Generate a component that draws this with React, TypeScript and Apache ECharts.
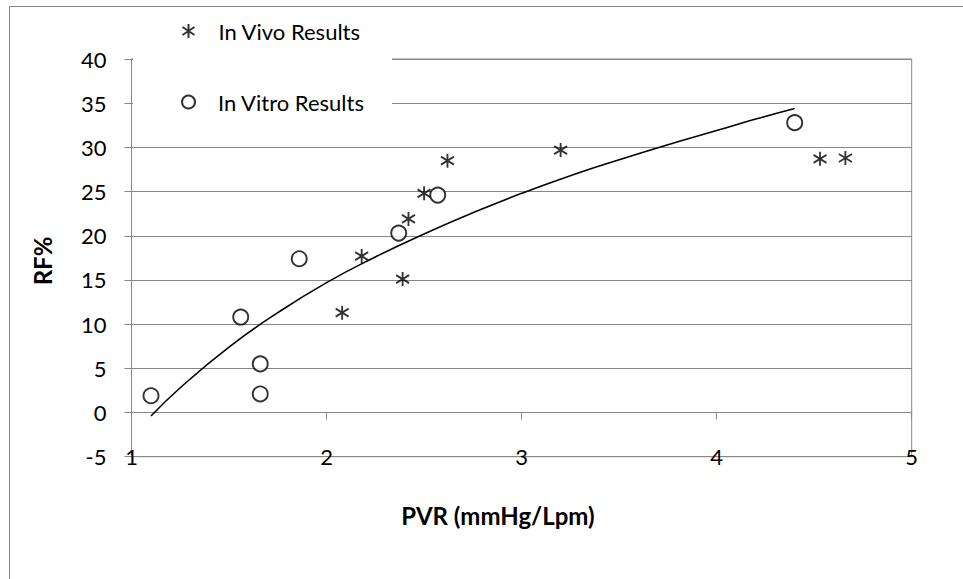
import React, { useEffect, useRef } from "react";
import * as echarts from "echarts";

const seriesNames = ["In Vivo Results", "In Vitro Results", "Trend"];
const inVivo: [number, number][] = [
  [2.08, 11.3], [2.18, 17.7], [2.39, 15.1], [2.42, 21.9], [2.5, 24.8],
  [2.62, 28.5], [3.2, 29.7], [4.53, 28.7], [4.66, 28.8],
];
const inVitro: [number, number][] = [
  [1.1, 1.9], [1.56, 10.8], [1.66, 5.5], [1.66, 2.1], [1.86, 17.4],
  [2.37, 20.3], [2.57, 24.6], [4.4, 32.8],
];
const trendLine: [number, number][] = [
  [1.1, -0.4], [1.25, 2.8], [1.5, 7.4], [1.75, 11.3], [2, 14.7], [2.25, 17.6],
  [2.5, 20.2], [2.75, 22.6], [3, 24.8], [3.25, 26.8], [3.5, 28.6], [3.75, 30.3],
  [4, 31.9], [4.2, 33.2], [4.4, 34.4],
];
const xRange = { min: 1, max: 5, interval: 1 };
const yRange = { min: -5, max: 40, interval: 5 };
const xTitle = "PVR (mmHg/Lpm)";
const yTitle = "RF%";

const FONT = "Lato";
const GRAY = "#878787";
const STAR = "path://M6,0L6,14M0,3L12,11M0,11L12,3";

export default function App() {
  const ref = useRef<HTMLDivElement>(null);
  useEffect(() => {
    if (!ref.current) return;
    const chart = echarts.init(ref.current, null, { renderer: "svg" });
    const labelStyle = { fontFamily: FONT, fontSize: 22, color: "#000" };
    chart.setOption({
      animation: false,
      backgroundColor: "#fff",
      grid: {
        left: 131.5, top: 59, right: 51.3, bottom: 122.3,
        show: true, borderColor: GRAY, borderWidth: 1, backgroundColor: "transparent",
      },
      xAxis: [
        {
          type: "value", ...xRange,
          axisLine: { show: true, onZero: true, lineStyle: { color: GRAY, width: 1 } },
          axisTick: { show: true, inside: false, length: 7, lineStyle: { color: GRAY } },
          axisLabel: { show: false },
          splitLine: { show: false },
        },
        {
          type: "value", ...xRange, position: "bottom",
          axisLine: { show: false, onZero: false },
          axisTick: { show: false },
          axisLabel: { ...labelStyle, margin: 0, verticalAlign: "middle" },
          splitLine: { show: false },
        },
      ],
      yAxis: {
        type: "value", ...yRange,
        axisLine: { show: true, onZero: false, lineStyle: { color: GRAY, width: 1 } },
        axisTick: { show: true, length: 7, lineStyle: { color: GRAY } },
        axisLabel: { ...labelStyle, margin: 25 },
        splitLine: { show: true, lineStyle: { color: GRAY, width: 1 } },
      },
      legend: [
        {
          data: [seriesNames[0]], left: 181.5, top: 20, orient: "vertical", padding: 0,
          itemWidth: 14, itemHeight: 14, z: 20,
          textStyle: { fontFamily: FONT, fontSize: 22, color: "#000", padding: [0, 0, 0, 18] },
        },
        {
          data: [seriesNames[1]], left: 181, top: 91, orient: "vertical", padding: 0,
          itemWidth: 13, itemHeight: 13, z: 20,
          textStyle: { fontFamily: FONT, fontSize: 22, color: "#000", padding: [0, 0, 0, 18] },
        },
      ],
      graphic: [
        {
          type: "polyline", z: 10, silent: true,
          shape: { points: [[9.5, 600], [9.5, 6.5], [980, 6.5]] },
          style: { fill: "none", stroke: GRAY, lineWidth: 1 },
        },
        {
          type: "rect", z: 10, silent: true,
          shape: { x: 133, y: 12, width: 259, height: 113 },
          style: { fill: "#fff" },
        },
        {
          type: "text", z: 10, x: 498, y: 515,
          style: { text: xTitle, font: `bold 24px ${FONT}`, fill: "#000", align: "center", verticalAlign: "middle" },
        },
        {
          type: "text", z: 10, x: 42, y: 261, rotation: Math.PI / 2,
          style: { text: yTitle, font: `bold 24px ${FONT}`, fill: "#000", align: "center", verticalAlign: "middle" },
        },
      ],
      series: [
        {
          name: seriesNames[0], type: "scatter", data: inVivo, xAxisIndex: 0,
          symbol: STAR, symbolSize: [13, 14], z: 3,
          itemStyle: { color: "transparent", borderColor: "#000", borderWidth: 1.9 },
        },
        {
          name: seriesNames[1], type: "scatter", data: inVitro, xAxisIndex: 0,
          symbol: "circle", symbolSize: 15, z: 3,
          itemStyle: { color: "#fff", borderColor: "#000", borderWidth: 1.9 },
        },
        {
          name: seriesNames[2], type: "line", data: trendLine, xAxisIndex: 0,
          smooth: true, showSymbol: false, symbol: "none", z: 2,
          lineStyle: { color: "#000", width: 1.6 },
        },
      ],
    });
    return () => chart.dispose();
  }, []);
  return (
    <div
      ref={ref}
      style={{ position: "absolute", left: 0, top: 0, width: 963, height: 579 }}
    />
  );
}
